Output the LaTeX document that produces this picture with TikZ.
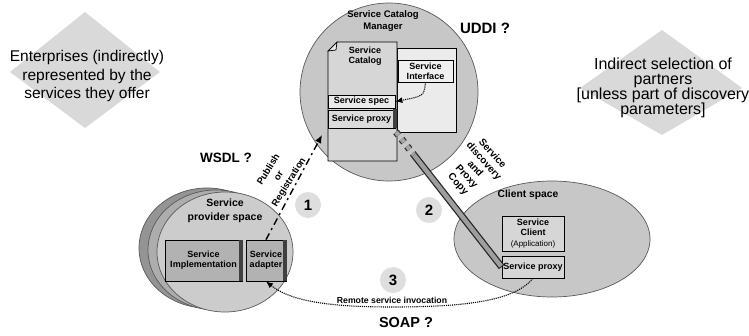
\documentclass[tikz,border=0pt]{standalone}
\usepackage{fontspec}
\setmainfont{Liberation Sans}
\usetikzlibrary{arrows.meta,calc}
\begin{document}
\begin{tikzpicture}[x=1pt,y=-1pt,
  lbl/.style={font=\bfseries\fontsize{9}{10}\selectfont, align=center, inner sep=0pt},
  sp/.style={font=\bfseries\fontsize{10}{12}\selectfont, align=center, inner sep=0pt},
  big/.style={font=\fontsize{15.5}{18.5}\selectfont, align=center, inner sep=0pt},
  qmark/.style={font=\bfseries\fontsize{14}{16}\selectfont, inner sep=0pt},
  num/.style={circle, fill=black!13, minimum size=26pt, inner sep=0pt, font=\bfseries\fontsize{15}{15}\selectfont},
  region/.style={draw=black!65, line width=0.7pt},
  rbox/.style={draw=black, line width=0.7pt},
  shadowstrip/.style={fill=black!75},
  dotarrow/.style={densely dotted, line width=1.1pt, -{Latex[length=7pt,width=6pt]}},
]
\useasboundingbox (0,0) rectangle (749,335);

% background diamonds
\fill[black!15] (85,12) -- (160,72) -- (85,128) -- (10,72) -- cycle;
\fill[black!15] (662,30) -- (742,88) -- (662,135) -- (580,88) -- cycle;
\node[big] (ent) at (87,76) {Enterprises (indirectly)\\represented by the\\services they offer};
\node[big, font=\fontsize{16}{15}\selectfont] (sel) at (663,88) {Indirect selection of\\partners\\{[}unless part of discovery\\parameters{]}};

% regions
\node[region, circle, fill=black!22, minimum size=178pt, inner sep=0pt] (cat) at (389,92) {};
\filldraw[region, fill=black!42] (207,248) ellipse [x radius=68pt, y radius=60pt];
\filldraw[region, fill=black!32] (216,250) ellipse [x radius=68pt, y radius=60pt];
\filldraw[region, fill=black!20] (225,252) ellipse [x radius=68pt, y radius=60pt];
\filldraw[region, fill=black!22] (552,239) ellipse [x radius=98pt, y radius=58pt];

% step numbers
\node[num] (n1) at (308,205) {1};
\node[num] (n2) at (429,210) {2};
\node[num] (n3) at (393,280) {3};

% catalog documents
\node[rbox, fill=black!8, minimum width=59pt, minimum height=84pt, inner sep=0pt] (idoc) at (426.5,90) {};
\filldraw[rbox, fill=black!16] (337,42) -- (397,42) -- (397,161) -- (328,161) -- (328,51) -- cycle;
\draw[rbox, fill=black!8] (328,51) -- (336,50) -- (337,42) -- cycle;
\node[lbl] (catlbl) at (365,56) {Service\\Catalog};
\node[lbl, rbox, fill=black!6, minimum width=55pt, minimum height=22pt] (sint) at (425.5,71) {Service\\Interface};
\node[lbl, rbox, fill=black!8, minimum width=67pt, minimum height=13pt] (sspec) at (361.5,101.5) {Service spec};
\node[lbl, rbox, fill=black!14, minimum width=67pt, minimum height=18pt] (scproxy) at (361.5,119) {Service proxy};
\fill[shadowstrip] (393,109) rectangle (397,128);
\node[sp, font=\bfseries\fontsize{9.5}{12}\selectfont] (catmgr) at (383,21) {Service Catalog\\Manager};

% provider boxes
\node[lbl, rbox, fill=black!30, minimum width=77pt, minimum height=41pt] (impl) at (203.5,260.5) {Service\\Implementation};
\node[lbl, rbox, fill=black!30, minimum width=40pt, minimum height=41pt] (adapter) at (266,260.5) {Service\\adapter};
\fill[shadowstrip] (239,240) rectangle (243,281);
\fill[shadowstrip] (283,240) rectangle (287,281);
\node[sp, font=\bfseries\fontsize{10.5}{14}\selectfont] (prov) at (225,211) {Service\\provider space};

% client boxes
\node[lbl, rbox, fill=black!16, minimum width=62pt, minimum height=35pt] (sclient) at (533,233.5) {Service\\Client\\[1pt]{\mdseries\fontsize{8}{9}\selectfont (Application)}};
\node[lbl, rbox, fill=black!16, minimum width=62pt, minimum height=22pt] (sproxy) at (533,267) {Service proxy};
\node[sp, font=\bfseries\fontsize{10.3}{12}\selectfont] (cli) at (528,195) {Client space};

% interface -> spec
\draw[dotarrow] (sint.south) .. controls (424,96) .. (sspec.east);

% publish / registration
\coordinate (pubend) at (322,135);
\draw[line width=1.4pt, dash pattern=on 7pt off 4pt on 2pt off 4pt, -{Latex[length=8pt,width=7pt]}] (adapter.north) -- (pubend);
\node[lbl, rotate=58, font=\bfseries\fontsize{9.5}{12}\selectfont] (pub) at (279,176) {Publish\\or\\Registration};

% discovery bar
\coordinate (barA) at (396,132);
\coordinate (barB) at (414,155);
\draw[line width=7pt, black!80, dash pattern=on 4pt off 5pt] (barA) -- (barB);
\draw[line width=4.5pt, black!35, dash pattern=on 4pt off 5pt] (barA) -- (barB);
\draw[line width=7pt, black!85] (barB) -- (sproxy.west);
\draw[line width=4.5pt, black!38, shorten >=1pt] (barB) -- (sproxy.west);
\node[lbl, rotate=-48, font=\bfseries\fontsize{10}{11.5}\selectfont] (disc) at (475,169) {Service\\discovery\\and\\Proxy\\Copy};

% remote invocation
\draw[dotarrow] (sproxy.south) .. controls (515,300) and (470,307) .. (392,307) .. controls (320,307) and (288,299) .. (adapter.south);
\node[lbl, font=\bfseries\fontsize{8.7}{10}\selectfont] (rsi) at (392,300) {Remote service invocation};

% technology labels
\node[qmark, font=\bfseries\fontsize{13.5}{16}\selectfont] (wsdl) at (226,158) {WSDL ?};
\node[qmark, font=\bfseries\fontsize{15}{16}\selectfont] (uddi) at (485,28.5) {UDDI ?};
\node[qmark, font=\bfseries\fontsize{14.5}{16}\selectfont] (soap) at (406,323) {SOAP ?};
\end{tikzpicture}
\end{document}
